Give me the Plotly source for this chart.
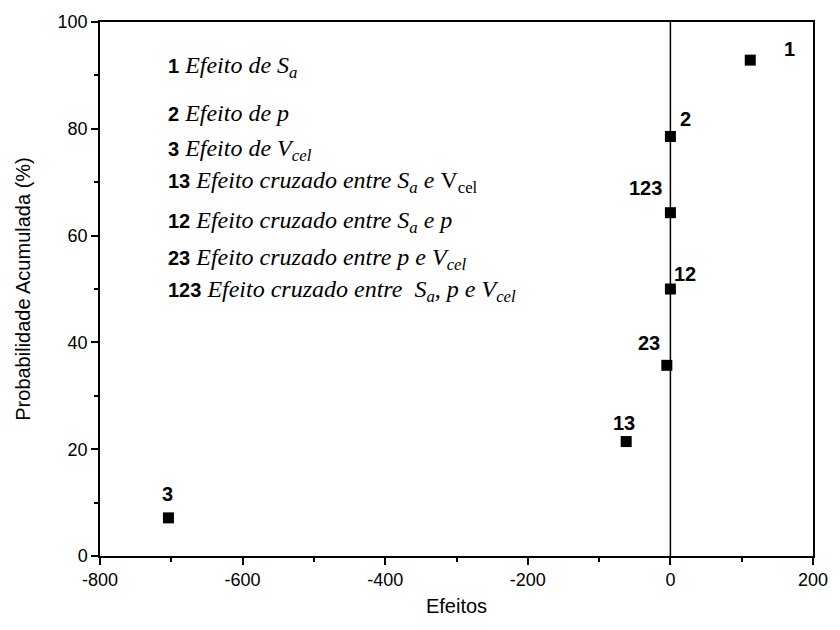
import plotly.graph_objects as go

effects = [112, 0, -704, -62, 0, -5, 0]
probs = [92.86, 78.57, 7.14, 21.43, 50.0, 35.71, 64.29]
labels = ["1", "2", "3", "13", "12", "23", "123"]
# label offsets (px) relative to marker: right, down
lab_dx = [39, 15, -1, -2, 15, -18, -25]
lab_dy = [-11, -17, -24, -19, -15, -22, -25]

legend_nums = ["1", "2", "3", "13", "12", "23", "123"]
legend_txt = [
    "Efeito de S<sub>a</sub>",
    "Efeito de p",
    "Efeito de V<sub>cel</sub>",
    "Efeito cruzado entre S<sub>a</sub> e <span style='font-style:normal'>V<sub>cel</sub></span>",
    "Efeito cruzado entre S<sub>a</sub> e p",
    "Efeito cruzado entre p e V<sub>cel</sub>",
    "Efeito cruzado entre  S<sub>a</sub>, p e V<sub>cel</sub>",
]
legend_y = [0.9086, 0.8302, 0.7519, 0.6922, 0.6175, 0.5485, 0.4888]

SANS = "Arial, Liberation Sans, sans-serif"
SERIF = "Liberation Serif, Times New Roman, serif"

fig = go.Figure()
fig.add_trace(go.Scatter(
    x=effects, y=probs, mode="markers",
    marker=dict(symbol="square", size=11, color="black"),
    showlegend=False, hoverinfo="skip"))

fig.add_shape(type="line", x0=0, x1=0, y0=0, y1=100, xref="x", yref="y",
              line=dict(color="black", width=1.5))

for x, y, t, dx, dy in zip(effects, probs, labels, lab_dx, lab_dy):
    fig.add_annotation(x=x, y=y, text="<b>" + t + "</b>", showarrow=False,
                       xshift=dx, yshift=-dy,
                       font=dict(family=SANS, size=20, color="black"))

for num, txt, yy in zip(legend_nums, legend_txt, legend_y):
    has_sub = "<sub>" in txt
    fig.add_annotation(
        xref="paper", yref="paper", x=0.093, y=yy, xanchor="left", yanchor="middle",
        yshift=4 if has_sub else 0,
        showarrow=False, align="left",
        text="<span style='font-family:" + SANS + ";font-weight:bold;font-style:normal;font-size:20px'>" + num + "</span> " + txt,
        font=dict(family=SERIF, size=24, color="black", style="italic"))

axis_common = dict(showline=True, linecolor="black", linewidth=1.5, mirror=True,
                   ticks="outside", ticklen=7, tickwidth=1.5, tickcolor="black",
                   showgrid=False, zeroline=False,
                   tickfont=dict(family=SANS, size=18, color="black"))

xt = [-800, -600, -400, -200, 0, 200]
yt = [0, 20, 40, 60, 80, 100]

fig.update_xaxes(range=[-800, 200], tickvals=xt, ticktext=[str(v) for v in xt],
                 minor=dict(ticks="outside", ticklen=4, tickwidth=1.5, tickcolor="black", dtick=100, tick0=-700),
                 title=dict(text="Efeitos", font=dict(family=SANS, size=20, color="black"), standoff=10),
                 **axis_common)
fig.update_yaxes(range=[0, 100], tickvals=yt, ticktext=[str(v) for v in yt],
                 minor=dict(ticks="outside", ticklen=4, tickwidth=1.5, tickcolor="black", dtick=10),
                 title=dict(text="Probabilidade Acumulada (%)", font=dict(family=SANS, size=20, color="black"), standoff=22),
                 **axis_common)

fig.update_layout(width=840, height=630, margin=dict(l=100, r=18, t=20, b=74),
                  plot_bgcolor="white", paper_bgcolor="white")
fig.write_html("out.html")
